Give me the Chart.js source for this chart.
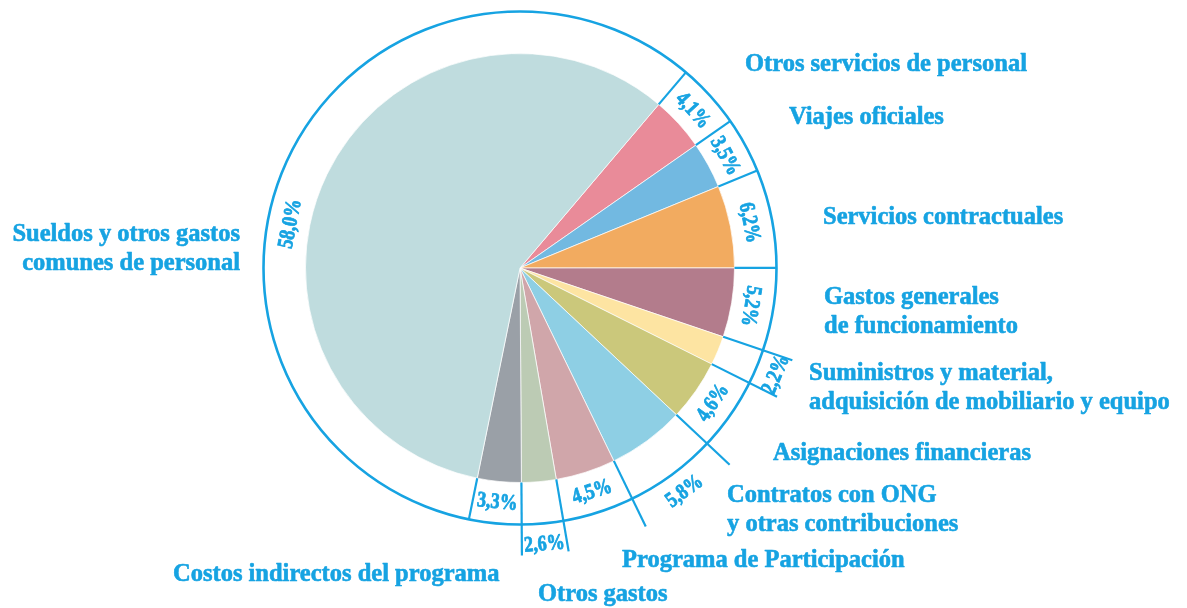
<!DOCTYPE html>
<html>
<head>
<meta charset="utf-8">
<script src="https://cdn.jsdelivr.net/npm/chart.js@4.4.0/dist/chart.umd.min.js"></script>
<style>
    html, body { margin: 0; padding: 0; background: #fff; }
    #wrap { width: 1187px; height: 608px; position: relative; }
</style>
</head>
<body>
<div id="wrap"><canvas id="budgetPie"></canvas></div>
<script>
// slices in clockwise order, starting right after the big one
const categories = [
    "Otros servicios de personal",
    "Viajes oficiales",
    "Servicios contractuales",
    "Gastos generales\nde funcionamiento",
    "Suministros y material,\nadquisición de mobiliario y equipo",
    "Asignaciones financieras",
    "Contratos con ONG\ny otras contribuciones",
    "Programa de Participación",
    "Otros gastos",
    "Costos indirectos del programa",
    "Sueldos y otros gastos\ncomunes de personal"
];
const shares = [4.1, 3.5, 6.2, 5.2, 2.2, 4.6, 5.8, 4.5, 2.6, 3.3, 58.0];

const sliceColors = [
    "#e98b99", "#72b9e1", "#f2ab60", "#b37c8c", "#fde4a2", "#cbc87b",
    "#8ecfe4", "#d0a6aa", "#bccbb4", "#9aa0a7", "#bfdcde"
];

// percent sits outside the ring for these slices
const pctOutside = [false, false, false, false, true, false, true, false, true, false, false];
// angular nudge (degrees) of a percent label away from its slice middle
const pctShift = [0, 0, 0, 0, 0, 0, 0, 0, 0, 0, -15];

// category label anchors: x, first baseline, alignment
const labelSpots = [
    [745, 71, "left"],
    [789, 124, "left"],
    [823, 224, "left"],
    [824, 304, "left"],
    [809, 380, "left"],
    [773, 460, "left"],
    [727, 502, "left"],
    [622, 567, "left"],
    [538, 601, "left"],
    [173, 581, "left"],
    [240, 241, "right"]
];

const BLUE = "#16a3e2";
const RING_GAP = 42;
const LINE_REACH = 73;

function formatShare(v) {
    return v.toFixed(1).replace(".", ",") + "%";
}

// heavy, slightly condensed text: fill plus a thin stroke, squeezed in x
function heavyText(ctx, text, x, y, sx) {
    ctx.save();
    ctx.translate(x, y);
    ctx.scale(sx, 1);
    ctx.fillText(text, 0, 0);
    ctx.strokeText(text, 0, 0);
    ctx.restore();
}

const ringPlugin = {
    id: "ringLabels",
    afterDatasetsDraw(chart) {
        const ctx = chart.ctx;
        const arcs = chart.getDatasetMeta(0).data;
        const cx = arcs[0].x;
        const cy = arcs[0].y;
        const r = arcs[0].outerRadius;
        const ringR = r + RING_GAP;
        const outR = r + LINE_REACH;

        ctx.save();
        ctx.strokeStyle = BLUE;
        ctx.lineWidth = 2.6;
        ctx.beginPath();
        ctx.arc(cx, cy, ringR, 0, Math.PI * 2);
        ctx.stroke();

        ctx.lineWidth = 2.2;
        arcs.forEach((arc, i) => {
            const prev = (i + arcs.length - 1) % arcs.length;
            const reach = (pctOutside[i] || pctOutside[prev]) ? outR : ringR;
            const a = arc.startAngle;
            ctx.beginPath();
            ctx.moveTo(cx + Math.cos(a) * r, cy + Math.sin(a) * r);
            ctx.lineTo(cx + Math.cos(a) * reach, cy + Math.sin(a) * reach);
            ctx.stroke();
        });

        ctx.fillStyle = BLUE;
        ctx.lineWidth = 0.8;
        ctx.lineJoin = "round";
        ctx.font = "bold 22px 'Liberation Serif'";
        ctx.textAlign = "center";
        ctx.textBaseline = "middle";
        arcs.forEach((arc, i) => {
            const a = (arc.startAngle + arc.endAngle) / 2 + pctShift[i] * Math.PI / 180;
            const rr = pctOutside[i] ? ringR + 20 : r + 20;
            let rot = Math.atan2(Math.sin(a + Math.PI / 2), Math.cos(a + Math.PI / 2));
            if (rot > 105 * Math.PI / 180) rot -= Math.PI;
            else if (rot < -Math.PI / 2) rot += Math.PI;
            ctx.save();
            ctx.translate(cx + Math.cos(a) * rr, cy + Math.sin(a) * rr);
            ctx.rotate(rot);
            heavyText(ctx, formatShare(shares[i]), 0, 1, 0.82);
            ctx.restore();
        });

        ctx.font = "bold 25px 'Liberation Serif'";
        ctx.textBaseline = "alphabetic";
        ctx.lineWidth = 0.6;
        categories.forEach((name, i) => {
            const [x, y, align] = labelSpots[i];
            ctx.textAlign = align;
            name.split("\n").forEach((line, k) => {
                heavyText(ctx, line, x, y + k * 29, 0.98);
            });
        });
        ctx.restore();
    }
};

const pieCtx = document.getElementById("budgetPie").getContext("2d");
const budgetPie = new Chart(pieCtx, {
    type: "pie",
    data: {
        labels: categories,
        datasets: [
            {
                data: shares,
                backgroundColor: sliceColors,
                borderColor: "rgba(255,255,255,0.7)",
                borderWidth: 1
            }
        ]
    },
    options: {
        responsive: true,
        maintainAspectRatio: false,
        animation: false,
        rotation: 40.3,
        layout: { padding: { left: 305, right: 452, top: 53, bottom: 125 } },
        plugins: {
            legend: { display: false },
            tooltip: { enabled: false }
        }
    },
    plugins: [ringPlugin]
});
</script>
</body>
</html>
